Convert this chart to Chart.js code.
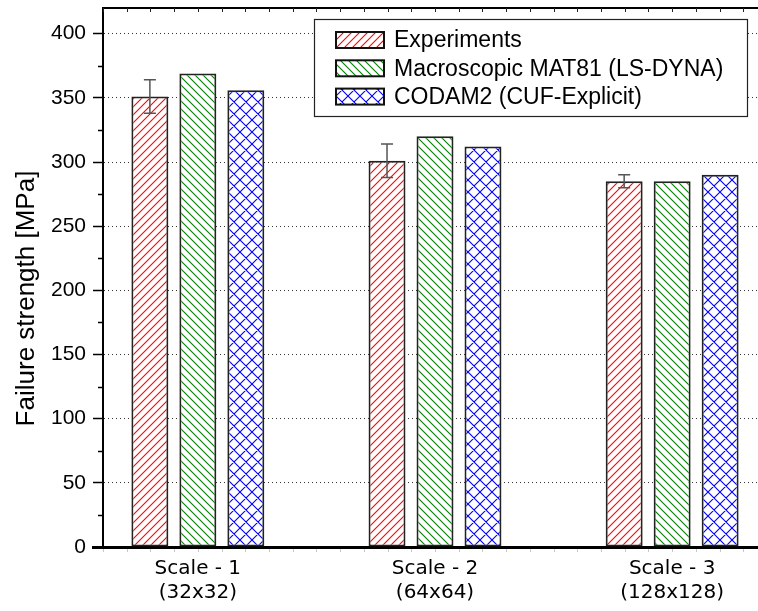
<!DOCTYPE html>
<html>
<head>
<meta charset="utf-8">
<script src="https://cdn.jsdelivr.net/npm/chart.js@4.4.1/dist/chart.umd.min.js"></script>
<style>
  html, body { margin: 0; padding: 0; overflow: hidden; background: #fff; }
  #wrap { width: 780px; height: 611px; }
</style>
</head>
<body>
<div id="wrap"><canvas id="strengthChart" width="780" height="611"></canvas></div>
<script>
// ── Data ────────────────────────────────────────────────────────────────────
const groupPos = [1, 2, 3];
const groupLabels = [['Scale - 1', '(32x32)'], ['Scale - 2', '(64x64)'], ['Scale - 3', '(128x128)']];
const seriesNames = ['Experiments', 'Macroscopic MAT81 (LS-DYNA)', 'CODAM2 (CUF-Explicit)'];
const experiments = [351, 301, 285];
const experimentsErr = [13, 13, 5];
const mat81 = [369, 320, 285];
const codam2 = [356, 312, 290];
const yTicks = [0, 50, 100, 150, 200, 250, 300, 350, 400];
const yTitle = 'Failure strength [MPa]';

// ── Hatch patterns ──────────────────────────────────────────────────────────
function hatch(color, kind, size) {
    const c = document.createElement('canvas');
    c.width = size; c.height = size;
    const g = c.getContext('2d');
    g.fillStyle = '#ffffff';
    g.fillRect(0, 0, size, size);
    g.strokeStyle = color;
    g.lineWidth = 1.1;
    g.beginPath();
    if (kind === 'fwd' || kind === 'cross') {
        g.moveTo(-2, size + 2); g.lineTo(size + 2, -2);
        g.moveTo(-2, 2); g.lineTo(2, -2);
        g.moveTo(size - 2, size + 2); g.lineTo(size + 2, size - 2);
    }
    if (kind === 'back' || kind === 'cross') {
        g.moveTo(-2, -2); g.lineTo(size + 2, size + 2);
        g.moveTo(size - 2, -2); g.lineTo(size + 2, 2);
        g.moveTo(-2, size - 2); g.lineTo(2, size + 2);
    }
    g.stroke();
    return g.createPattern(c, 'repeat');
}

const ctxMain = document.getElementById('strengthChart').getContext('2d');
const fills = [hatch('rgb(255,0,0)', 'fwd', 8), hatch('rgb(0,128,0)', 'back', 8), hatch('rgb(0,0,255)', 'cross', 12)];

// ── Extras: error bars, minor ticks, frame, legend box, axis title ─────────
const extras = {
    id: 'extras',
    afterDatasetsDraw(chart) {
        const { ctx, scales: { y } } = chart;
        const meta = chart.getDatasetMeta(0);
        ctx.save();
        ctx.strokeStyle = '#555';
        ctx.lineWidth = 1.5;
        meta.data.forEach((bar, i) => {
            const top = y.getPixelForValue(experiments[i] + experimentsErr[i]);
            const bot = y.getPixelForValue(experiments[i] - experimentsErr[i]);
            ctx.beginPath();
            ctx.moveTo(bar.x, top); ctx.lineTo(bar.x, bot);
            ctx.moveTo(bar.x - 6, top); ctx.lineTo(bar.x + 6, top);
            ctx.moveTo(bar.x - 6, bot); ctx.lineTo(bar.x + 6, bot);
            ctx.stroke();
        });
        ctx.restore();
    },
    afterDraw(chart) {
        const { ctx, chartArea: a, scales: { x, y } } = chart;
        ctx.save();
        // minor y ticks
        ctx.strokeStyle = '#000';
        ctx.lineWidth = 1.5;
        ctx.beginPath();
        for (let i = 0; i < yTicks.length - 1; i++) {
            const py = Math.round(y.getPixelForValue((yTicks[i] + yTicks[i + 1]) / 2)) + 0.5;
            ctx.moveTo(a.left - 5, py); ctx.lineTo(a.left, py);
        }
        ctx.stroke();
        // top frame and bottom axis stub
        ctx.lineWidth = 2;
        ctx.beginPath();
        ctx.moveTo(a.left - 1, a.top); ctx.lineTo(a.right, a.top);
        ctx.stroke();
        ctx.lineWidth = 3;
        ctx.beginPath();
        ctx.moveTo(a.left - 11, a.bottom + 0.5); ctx.lineTo(a.left, a.bottom + 0.5);
        ctx.stroke();
        // small x ticks on top and bottom
        ctx.lineWidth = 1;
        for (let v = Math.ceil(x.min * 10); v <= x.max * 10; v++) {
            const px = Math.round(x.getPixelForValue(v / 10)) + 0.5;
            ctx.strokeStyle = '#222';
            ctx.beginPath(); ctx.moveTo(px, a.top); ctx.lineTo(px, a.top + 4); ctx.stroke();
            ctx.strokeStyle = '#c8c8c8';
            ctx.beginPath(); ctx.moveTo(px, a.bottom + 2); ctx.lineTo(px, a.bottom + 5); ctx.stroke();
        }
        // y axis title
        ctx.save();
        ctx.translate(34, (a.top + a.bottom) / 2 + 21);
        ctx.rotate(-Math.PI / 2);
        ctx.fillStyle = '#000';
        ctx.font = '26px "Liberation Sans", Arial, sans-serif';
        ctx.textAlign = 'center';
        ctx.textBaseline = 'alphabetic';
        ctx.fillText(yTitle, 0, 0);
        ctx.restore();
        // legend box
        const bx = 314, by = 19, bw = 433, bh = 97;
        ctx.fillStyle = '#fff';
        ctx.fillRect(bx, by, bw, bh);
        ctx.strokeStyle = '#222';
        ctx.lineWidth = 1.2;
        ctx.strokeRect(bx + 0.5, by + 0.5, bw, bh);
        ctx.font = '23px "Liberation Sans", Arial, sans-serif';
        ctx.textBaseline = 'middle';
        chart.data.datasets.forEach((ds, i) => {
            const cy = 40 + i * 28.3;
            ctx.fillStyle = ds.backgroundColor;
            ctx.fillRect(336, cy - 8, 48, 16);
            ctx.strokeStyle = '#111';
            ctx.lineWidth = 2;
            ctx.strokeRect(336, cy - 8, 48, 16);
            ctx.fillStyle = '#000';
            ctx.fillText(ds.label, 394, cy + 1);
        });
        ctx.restore();
    }
};

const seriesValues = [experiments, mat81, codam2];

new Chart(ctxMain, {
    type: 'bar',
    data: {
        datasets: seriesValues.map((vals, k) => ({
            label: seriesNames[k],
            data: groupPos.map((p, i) => ({ x: p, y: vals[i] })),
            backgroundColor: fills[k],
            hoverBackgroundColor: fills[k],
            borderColor: '#222',
            borderWidth: 2,
            borderSkipped: false,
            categoryPercentage: 0.607,
            barPercentage: 0.77
        }))
    },
    options: {
        responsive: false,
        animation: false,
        layout: { padding: { top: 8, right: 13, left: 0, bottom: 0 } },
        plugins: { legend: { display: false }, tooltip: { enabled: false }, colors: { enabled: false } },
        scales: {
            x: {
                type: 'linear',
                min: 0.6,
                max: 3.4,
                offset: false,
                afterBuildTicks: s => { s.ticks = groupPos.map(v => ({ value: v })); },
                afterFit: s => { s.height = 64; s.paddingLeft = 0; s.paddingRight = 0; },
                grid: { display: false, drawTicks: false, offset: false },
                border: { display: true, color: '#000', width: 3 },
                ticks: {
                    color: '#000',
                    autoSkip: false,
                    maxRotation: 0,
                    padding: 10,
                    font: { family: '"DejaVu Sans", Verdana, sans-serif', size: 20, lineHeight: 1.2 },
                    callback: v => groupLabels[groupPos.indexOf(v)]
                }
            },
            y: {
                min: 0,
                max: 420,
                afterBuildTicks: s => { s.ticks = yTicks.map(v => ({ value: v })); },
                afterFit: s => { s.width = 103; s.paddingTop = 0; s.paddingBottom = 0; },
                grid: {
                    color: c => (c.tick && c.tick.value > 0 ? '#333' : 'rgba(0,0,0,0)'),
                    lineWidth: 1,
                    tickColor: '#000',
                    tickLength: 10,
                    tickWidth: 1.5
                },
                border: { display: true, color: '#000', width: 2, dash: [1, 3] },
                ticks: {
                    color: '#000',
                    padding: 7,
                    font: { family: '"Liberation Sans", Arial, sans-serif', size: 21 }
                }
            }
        }
    },
    plugins: [extras]
});
</script>
</body>
</html>
